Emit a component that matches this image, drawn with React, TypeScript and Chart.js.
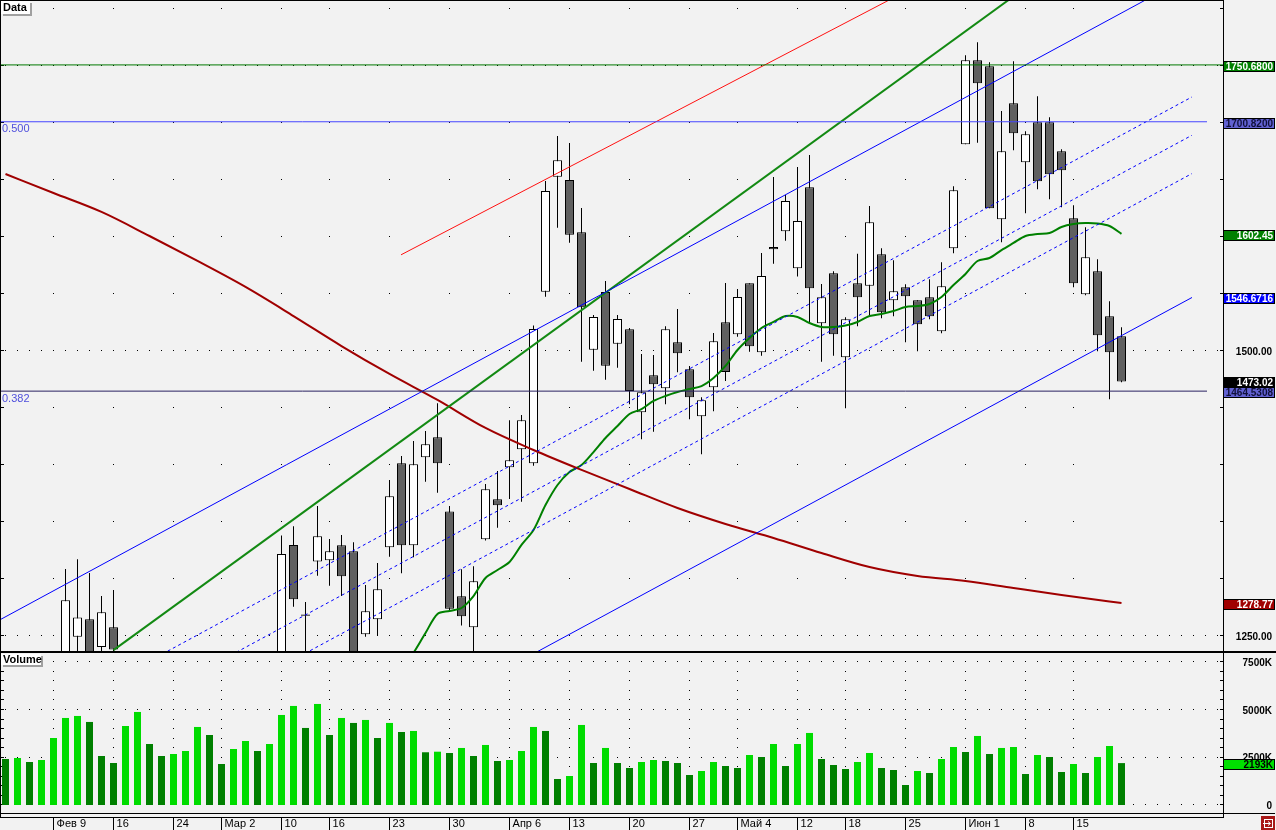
import React, { useEffect, useRef } from 'react';
import { Chart, registerables } from 'chart.js';

Chart.register(...registerables);

// ---------------- data ----------------
const N = null;
// bar 0 = first bar on the left; bars 0-4 and 10-22 lie below the visible price range
const opens: (number | null)[] = [
  N, N, N, N, N, 1225, 1249.1, 1264.4, 1240.0, 1257.4,
  N, N, N, N, N, N, N, N, N, N, N, N, N,
  1225, 1329.6, 1268.6, 1315.0, 1316.1, 1329.3, 1324.0, 1251.2, 1264.4, 1327.5,
  1401.2, 1329.3, 1406.5, 1424.0, 1359.0, 1284.5, 1257.4, 1334.6, 1369.7, 1397.7,
  1413.5, 1401.2, 1551.8, 1652.6, 1649.7, 1603.9, 1500.9, 1551.5, 1506.1, 1518.8,
  1446.0, 1478.4, 1467.0, 1507.4, 1483.7, 1442.5, 1467.9, 1525.0, 1514.4, 1559.1,
  1498.6, 1591.0, 1604.7, 1572.3, 1643.3, 1524.0, 1567.9, 1494.2, 1559.1, 1557.0,
  1584.6, 1544.2, 1555.6, 1544.2, 1546.8, 1517.0, 1589.8, 1681.0, 1754.7, 1749.5,
  1615.3, 1717.0, 1665.3, 1700.4, 1700.4, 1674.9, 1616.1, 1549.5, 1569.6, 1530.2, 1512.6,
];
const highs: (number | null)[] = [
  N, N, N, N, N, 1308.5, 1317.0, 1305.0, 1284.8, 1290.0,
  N, N, N, N, N, N, N, N, N, N, N, N, N,
  1338.0, 1346.0, 1279.6, 1363.8, 1334.8, 1338.3, 1332.0, 1294.5, 1313.8, 1386.6,
  1407.6, 1420.8, 1429.6, 1453.9, 1363.8, 1308.2, 1311.0, 1383.0, 1394.5, 1438.9,
  1443.6, 1522.0, 1648.9, 1688.3, 1682.2, 1625.2, 1531.3, 1561.1, 1531.3, 1520.0,
  1497.1, 1496.2, 1521.4, 1536.6, 1486.6, 1459.1, 1515.5, 1559.4, 1554.1, 1559.1,
  1585.7, 1652.4, 1636.6, 1661.1, 1671.7, 1558.5, 1569.6, 1529.3, 1585.1, 1626.9,
  1589.8, 1579.3, 1558.2, 1544.2, 1562.6, 1577.5, 1644.2, 1759.1, 1770.5, 1753.0,
  1710.3, 1753.9, 1692.5, 1723.2, 1704.7, 1676.7, 1627.5, 1608.2, 1580.2, 1543.3, 1520.5,
];
const lows: (number | null)[] = [
  N, N, N, N, N, 1215, 1225, 1215, 1234, 1236.5,
  N, N, N, N, N, N, N, N, N, N, N, N, N,
  1215, 1275.4, 1225, 1302.6, 1293.9, 1284.8, 1215, 1249.1, 1250.6, 1319.3,
  1304.7, 1318.8, 1385.0, 1375.4, 1271.0, 1259.0, 1230, 1333.5, 1344.7, 1370.0,
  1367.5, 1399.0, 1547.4, 1607.9, 1594.7, 1490.4, 1482.5, 1474.6, 1485.1, 1453.0,
  1422.3, 1429.0, 1453.0, 1481.0, 1439.8, 1409.1, 1446.8, 1473.4, 1512.3, 1499.1,
  1495.6, 1576.3, 1596.5, 1565.0, 1524.0, 1490.4, 1495.6, 1449.5, 1521.4, 1531.0,
  1528.4, 1530.2, 1507.4, 1499.5, 1527.5, 1515.3, 1585.4, 1681.0, 1682.5, 1624.9,
  1595.1, 1675.8, 1620.5, 1641.6, 1632.8, 1625.8, 1555.6, 1548.6, 1499.5, 1457.4, 1472.3,
];
const closes: (number | null)[] = [
  N, N, N, N, N, 1281.0, 1266.0, 1228, 1270.5, 1238.0,
  N, N, N, N, N, N, N, N, N, N, N, N, N,
  1321.7, 1281.9, 1267.4, 1337.2, 1324.0, 1302.1, 1225, 1271.4, 1290.7, 1372.3,
  1329.3, 1400.4, 1417.9, 1401.2, 1273.7, 1267.0, 1297.7, 1378.4, 1364.4, 1403.9,
  1439.0, 1519.0, 1640.1, 1667.0, 1601.8, 1538.1, 1529.6, 1486.8, 1527.8, 1464.6,
  1463.5, 1470.5, 1518.8, 1497.7, 1459.1, 1456.5, 1508.2, 1481.3, 1547.1, 1503.9,
  1565.5, 1589.0, 1631.3, 1613.8, 1554.7, 1546.8, 1514.4, 1527.5, 1546.8, 1612.6,
  1533.7, 1552.1, 1547.7, 1523.2, 1530.2, 1556.5, 1640.7, 1754.7, 1734.6, 1624.9,
  1674.9, 1690.7, 1689.8, 1648.6, 1654.7, 1658.2, 1559.1, 1581.9, 1513.5, 1498.6, 1473.02,
];
// volume in thousands
const volumesK: number[] = [
  2408, 2461, 2251, 2356, 3508, 4555, 4660, 4346, 2566, 2199,
  4136, 4869, 3194, 2566, 2670, 2827, 4084, 3665, 2147, 2932,
  3351, 2827, 3194, 4712, 5184, 4032, 5288, 3665, 4555, 4294,
  4451, 3508, 4294, 3822, 3875, 2760, 2790, 2723, 2985, 2566,
  3142, 2304, 2356, 2827, 4084, 3875, 1361, 1518, 4189, 2199,
  2985, 2199, 1937, 2251, 2356, 2304, 2199, 1571, 1780, 2251,
  2042, 1937, 2618, 2513, 3194, 2042, 3194, 3770, 2408, 2094,
  1885, 2251, 2723, 1937, 1833, 1047, 1780, 1676, 2408, 3037,
  2775, 3613, 2670, 2985, 3037, 1623, 2618, 2513, 1728, 2147,
  1676, 2513, 3089, 2193,
];

// dates (bar index of each tick) and their labels
const dateTickIdx = [4, 9, 14, 18, 23, 27, 32, 37, 42, 47, 52, 57, 61, 66, 70, 75, 80, 85, 89];
const dateTickLabels = ['Фев 9', '16', '24', 'Мар 2', '10', '16', '23', '30', 'Апр 6', '13', '20', '27', 'Май 4', '12', '18', '25', 'Июн 1', '8', '15'];

const priceTicks = [1250, 1300, 1350, 1400, 1450, 1500, 1550, 1600, 1650, 1700, 1750, 1800];
const priceLabelTicks = [1250, 1500, 1750];
const volumeTicks = [0, 500, 1000, 1500, 2000, 2500, 3000, 3500, 4000, 4500, 5000, 5500, 6000, 6500, 7000, 7500];
const volumeLabelTicks = [0, 2500, 5000, 7500];

// long moving average (dark red), read every 4 bars
const maLongIdx = [0, 4, 8, 12, 16, 20, 24, 28, 32, 36, 40, 44, 48, 52, 56, 60, 64, 68, 72, 76, 80, 84, 88, 92, 93];
const maLongVals = [1655.0, 1638.3, 1621.7, 1600.6, 1578.7, 1555.9, 1530.4, 1504.1, 1479.6, 1456.8, 1432.2, 1412.9, 1395.4, 1378.7, 1362.0, 1348.0, 1335.7, 1322.5, 1310.2, 1302.4, 1298.0, 1291.8, 1285.7, 1280.0, 1278.77];

// short moving average (green), bars 33..93
const maShortStart = 33;
const maShortVals = [
  1219, 1234.9, 1252.4, 1269.0, 1271.7, 1274.3, 1284.8, 1300.6, 1307.6, 1314.6,
  1329.6, 1342.7, 1364.6, 1382.2, 1393.6, 1399.7, 1411.1, 1423.4, 1433.9, 1444.5,
  1448.8, 1455.9, 1460.3, 1463.8, 1466.4, 1469.0, 1476.1, 1486.6, 1500.6, 1511.1,
  1519.9, 1525.2, 1530.4, 1529.6, 1524.3, 1520.8, 1520.8, 1522.1, 1525.2, 1530.4,
  1532.2, 1534.8, 1538.3, 1539.2, 1541.0, 1547.1, 1557.6, 1567.3, 1578.7, 1581.3,
  1588.3, 1594.5, 1600.6, 1602.4, 1603.2, 1608.5, 1611.1, 1612.0, 1611.6, 1609.4, 1602.45,
];

// parallel channel lines (solid upper, 3 dashed, solid lower)
const channelIdx = [-1, 98.875];
const channelStartVals = [1260.9, 1153.8, 1120.2, 1086.6, 977.9];
const channelEndVals = [1829.7, 1722.6, 1689.0, 1655.4, 1546.67];
const channelDashed = [false, true, true, true, false];

// other trend lines
const greenTrendIdx = [9, 84];
const greenTrendVals = [1237.3, 1810.8];
const redTrendIdx = [32.96, 76];
const redTrendVals = [1584.1, 1820.6];

// horizontal levels: 1750.68, fib 0.500, fib 0.382
const levelVals = [1750.68, 1700.82, 1464.53];
const levelEndIdx = [101.46, 100.125, 100.125];
const levelColors = ['#007800', '#4646ff', '#2a2262'];

// ---------------- layout / styles ----------------
const BG = '#f2f2f2';
const X_MIN = -0.375;
const X_MAX = 101.458333;
const P_MAX = 1806.75;
const P_MIN = 1236.575;
const V_MAX = 7902.8;
const V_MIN = -418.7;
const AXIS_X = 1223;
const LBL_FONT = 'bold 10px "Liberation Sans", Arial, sans-serif';

const px = (v: number) => Math.floor(v);

function noPad(s: any) {
  s.paddingTop = 0;
  s.paddingBottom = 0;
  s.paddingLeft = 0;
  s.paddingRight = 0;
}

function drawBadge(ctx: any, yPix: number, text: string, bg: string, fg: string) {
  const top = Math.round(yPix - 5);
  ctx.fillStyle = bg;
  ctx.fillRect(AXIS_X, top, 52, 11);
  ctx.strokeStyle = '#000';
  ctx.lineWidth = 1;
  ctx.strokeRect(AXIS_X + 0.5, top + 0.5, 51, 10);
  ctx.fillStyle = fg;
  ctx.font = LBL_FONT;
  ctx.textAlign = 'right';
  ctx.textBaseline = 'middle';
  ctx.fillText(text, 1273, top + 6);
}

function drawTag(ctx: any, x: number, y: number, w: number, h: number, text: string) {
  ctx.fillStyle = '#a0a0a0';
  ctx.fillRect(x + 2, y + 2, w, h);
  ctx.fillStyle = '#ffffff';
  ctx.fillRect(x, y, w, h);
  ctx.fillStyle = '#000';
  ctx.font = 'bold 11px "Liberation Sans", Arial, sans-serif';
  ctx.textAlign = 'left';
  ctx.textBaseline = 'middle';
  ctx.fillText(text, x + 2, y + h / 2 + 0.5);
}

const pricePlugin = {
  id: 'priceDecor',
  beforeDraw(chart: any) {
    const c = chart.ctx;
    c.save();
    c.fillStyle = BG;
    c.fillRect(0, 0, chart.width, chart.height);
    c.restore();
  },
  beforeDatasetsDraw(chart: any) {
    const { ctx, scales } = chart;
    const x = scales.x, y = scales.y;
    ctx.save();
    ctx.fillStyle = '#000';
    for (const v of priceTicks) {
      const py = px(y.getPixelForValue(v));
      for (const t of dateTickIdx) ctx.fillRect(px(x.getPixelForValue(t)), py, 1, 1);
      ctx.fillRect(1, py, 3, 1);
      ctx.fillRect(AXIS_X - 3, py, 3, 1);
    }
    for (const v of priceLabelTicks) {
      const py = px(y.getPixelForValue(v));
      for (let i = 0; i <= 101; i++) ctx.fillRect(px(x.getPixelForValue(i)), py, 1, 1);
    }
    ctx.restore();
  },
  afterDraw(chart: any) {
    const { ctx, scales } = chart;
    const y = scales.y;
    ctx.save();
    ctx.font = '11px "Liberation Sans", Arial, sans-serif';
    ctx.fillStyle = '#5050dc';
    ctx.textAlign = 'left';
    ctx.textBaseline = 'top';
    ctx.fillText('0.500', 2, y.getPixelForValue(levelVals[1]) + 2);
    ctx.fillText('0.382', 2, y.getPixelForValue(levelVals[2]) + 2);
    ctx.fillStyle = '#000';
    ctx.fillRect(0, 0, 1, chart.height);
    ctx.fillRect(0, 0, AXIS_X, 1);
    ctx.fillRect(AXIS_X, 0, 1, chart.height);
    ctx.fillRect(0, 651, chart.width, 2);
    drawTag(ctx, 1, 1, 29, 13, 'Data');
    const b = (v: number, t: string, bg: string, fg: string) => drawBadge(ctx, y.getPixelForValue(v) + 1, t, bg, fg);
    b(1750.68, '1750.6800', '#008000', '#ffffff');
    b(1700.82, '1700.8200', '#6262d2', '#10103a');
    b(1602.45, '1602.45', '#008000', '#ffffff');
    b(1546.6716, '1546.6716', '#0000ff', '#ffffff');
    b(1464.53, '1464.5308', '#6262d2', '#10103a');
    b(1473.02, '1473.02', '#000000', '#ffffff');
    b(1278.77, '1278.77', '#a00000', '#ffffff');
    ctx.restore();
  },
};

const volumePlugin = {
  id: 'volumeDecor',
  beforeDraw(chart: any) {
    const c = chart.ctx;
    c.save();
    c.fillStyle = BG;
    c.fillRect(0, 0, chart.width, chart.height);
    c.restore();
  },
  beforeDatasetsDraw(chart: any) {
    const { ctx, scales } = chart;
    const x = scales.x, y = scales.y;
    ctx.save();
    ctx.fillStyle = '#000';
    for (const v of volumeTicks) {
      const py = px(y.getPixelForValue(v));
      for (const t of dateTickIdx) ctx.fillRect(px(x.getPixelForValue(t)), py, 1, 1);
      ctx.fillRect(1, py, 3, 1);
      ctx.fillRect(AXIS_X - 3, py, 3, 1);
    }
    for (const v of volumeLabelTicks) {
      const py = px(y.getPixelForValue(v));
      for (let i = 0; i <= 101; i++) ctx.fillRect(px(x.getPixelForValue(i)), py, 1, 1);
    }
    ctx.restore();
  },
  afterDraw(chart: any) {
    const { ctx, scales } = chart;
    const x = scales.x, y = scales.y;
    ctx.save();
    ctx.fillStyle = '#000';
    ctx.fillRect(0, 0, 1, 165);
    ctx.fillRect(AXIS_X, 0, 1, 165);
    ctx.fillRect(0, 160, 1275, 1);
    ctx.fillRect(0, 164, AXIS_X + 1, 1);
    for (const t of dateTickIdx) ctx.fillRect(px(x.getPixelForValue(t)), 165, 1, 12);
    drawTag(ctx, 1, 1, 40, 11, 'Volume');
    drawBadge(ctx, y.getPixelForValue(volumesK[volumesK.length - 1]) + 1, '2193K', '#00e000', '#000000');
    ctx.fillStyle = '#a81818';
    ctx.fillRect(1261, 163, 14, 14);
    ctx.strokeStyle = '#ffffff';
    ctx.lineWidth = 1;
    ctx.strokeRect(1264.5, 166.5, 8, 8);
    ctx.beginPath();
    ctx.moveTo(1263, 170.5);
    ctx.lineTo(1270, 170.5);
    ctx.moveTo(1268, 168.5);
    ctx.lineTo(1270.5, 170.5);
    ctx.lineTo(1268, 172.5);
    ctx.stroke();
    ctx.restore();
  },
};

function lineDs(data: any[], color: string, width: number, dash: number[] = [], extra: any = {}) {
  return {
    type: 'line',
    data,
    borderColor: color,
    borderWidth: width,
    borderDash: dash,
    pointRadius: 0,
    pointHoverRadius: 0,
    fill: false,
    tension: 0,
    order: 0,
    ...extra,
  };
}

function priceConfig(): any {
  const visible = opens.map((o, i) => i).filter((i) => opens[i] !== null);
  const wickData = visible.map((i) => ({ x: i, y: [lows[i], highs[i]] }));
  const bodyData = visible.map((i) => ({ x: i, y: [opens[i], closes[i]] }));
  const bodyColors = visible.map((i) => ((closes[i] as number) >= (opens[i] as number) ? '#ffffff' : '#606060'));

  const datasets: any[] = [];
  levelVals.forEach((v, k) => {
    datasets.push(lineDs([{ x: X_MIN, y: v }, { x: levelEndIdx[k], y: v }], levelColors[k], 1));
  });
  channelStartVals.forEach((s, k) => {
    datasets.push(
      lineDs([{ x: channelIdx[0], y: s }, { x: channelIdx[1], y: channelEndVals[k] }], '#0000ff', 1, channelDashed[k] ? [3, 3] : [])
    );
  });
  datasets.push(lineDs(greenTrendIdx.map((t, k) => ({ x: t, y: greenTrendVals[k] })), '#138a13', 2));
  datasets.push(lineDs(redTrendIdx.map((t, k) => ({ x: t, y: redTrendVals[k] })), '#ff1010', 1));
  datasets.push(
    lineDs(maLongIdx.map((t, k) => ({ x: t, y: maLongVals[k] })), '#a00000', 2, [], { cubicInterpolationMode: 'monotone' })
  );
  datasets.push(
    lineDs(maShortVals.map((v, k) => ({ x: maShortStart + k, y: v })), '#008000', 2, [], { tension: 0.3 })
  );
  datasets.push({
    type: 'bar',
    data: bodyData,
    backgroundColor: bodyColors,
    borderColor: '#000000',
    borderWidth: 1,
    borderSkipped: false,
    barThickness: 9,
    grouped: false,
    inflateAmount: 0,
    order: 1,
  });
  datasets.push({
    type: 'bar',
    data: wickData,
    backgroundColor: '#000000',
    borderWidth: 0,
    barThickness: 1,
    grouped: false,
    inflateAmount: 0,
    order: 2,
  });

  return {
    type: 'bar',
    data: { datasets },
    plugins: [pricePlugin],
    options: {
      animation: false,
      responsive: false,
      maintainAspectRatio: false,
      devicePixelRatio: 1,
      events: [],
      layout: { padding: { left: 1, right: 4, top: 1, bottom: 2 }, autoPadding: false },
      plugins: { legend: { display: false }, tooltip: { enabled: false } },
      scales: {
        x: { type: 'linear', min: X_MIN, max: X_MAX, display: false, offset: false, grid: { offset: false } },
        y: {
          type: 'linear',
          position: 'right',
          min: P_MIN,
          max: P_MAX,
          afterBuildTicks: (s: any) => {
            s.ticks = priceTicks.map((v) => ({ value: v }));
          },
          afterFit: (s: any) => {
            s.width = 49;
            noPad(s);
          },
          grid: { display: false },
          border: { display: false },
          ticks: {
            autoSkip: false,
            crossAlign: 'far',
            padding: 0,
            labelOffset: 1.5,
            color: '#000',
            font: { family: '"Liberation Sans", Arial, sans-serif', size: 10, weight: 'bold' },
            callback: (v: number) => (priceLabelTicks.includes(v) ? v.toFixed(2) : ''),
          },
        },
      },
    },
  };
}

function volumeConfig(): any {
  const colors = volumesK.map((v, i) => (i > 0 && v > volumesK[i - 1] ? '#00dc00' : '#008000'));
  return {
    type: 'bar',
    data: {
      datasets: [
        {
          type: 'bar',
          data: volumesK.map((v, i) => ({ x: i, y: v })),
          backgroundColor: colors,
          borderWidth: 0,
          barThickness: 7,
          grouped: false,
          inflateAmount: 0,
        },
      ],
    },
    plugins: [volumePlugin],
    options: {
      animation: false,
      responsive: false,
      maintainAspectRatio: false,
      devicePixelRatio: 1,
      events: [],
      layout: { padding: { left: 1, right: 4, top: 1, bottom: 0 }, autoPadding: false },
      plugins: { legend: { display: false }, tooltip: { enabled: false } },
      scales: {
        x: {
          type: 'linear',
          position: 'bottom',
          min: X_MIN,
          max: X_MAX,
          offset: false,
          afterBuildTicks: (s: any) => {
            s.ticks = dateTickIdx.map((v) => ({ value: v }));
          },
          afterFit: (s: any) => {
            s.height = 17;
            noPad(s);
          },
          grid: { display: false, offset: false },
          border: { display: false },
          ticks: {
            autoSkip: false,
            maxRotation: 0,
            minRotation: 0,
            align: 'start',
            padding: -4,
            color: '#000',
            font: { family: '"Liberation Sans", Arial, sans-serif', size: 11 },
            callback: (v: number) => ' ' + dateTickLabels[dateTickIdx.indexOf(v)],
          },
        },
        y: {
          type: 'linear',
          position: 'right',
          min: V_MIN,
          max: V_MAX,
          afterBuildTicks: (s: any) => {
            s.ticks = volumeTicks.map((v) => ({ value: v }));
          },
          afterFit: (s: any) => {
            s.width = 49;
            noPad(s);
          },
          grid: { display: false },
          border: { display: false },
          ticks: {
            autoSkip: false,
            crossAlign: 'far',
            padding: 0,
            labelOffset: 1.5,
            color: '#000',
            font: { family: '"Liberation Sans", Arial, sans-serif', size: 10, weight: 'bold' },
            callback: (v: number) => (volumeLabelTicks.includes(v) ? (v === 0 ? '0' : v + 'K') : ''),
          },
        },
      },
    },
  };
}

export default function App() {
  const priceRef = useRef<HTMLCanvasElement>(null);
  const volRef = useRef<HTMLCanvasElement>(null);
  useEffect(() => {
    const pc = new Chart(priceRef.current as HTMLCanvasElement, priceConfig());
    const vc = new Chart(volRef.current as HTMLCanvasElement, volumeConfig());
    return () => {
      pc.destroy();
      vc.destroy();
    };
  }, []);
  return (
    <div style={{ position: 'fixed', left: 0, top: 0, width: 1276, height: 830, background: BG, overflow: 'hidden' }}>
      <canvas
        ref={priceRef}
        width={1276}
        height={653}
        style={{ position: 'absolute', left: 0, top: 0, width: 1276, height: 653 }}
      />
      <canvas
        ref={volRef}
        width={1276}
        height={177}
        style={{ position: 'absolute', left: 0, top: 653, width: 1276, height: 177 }}
      />
    </div>
  );
}
